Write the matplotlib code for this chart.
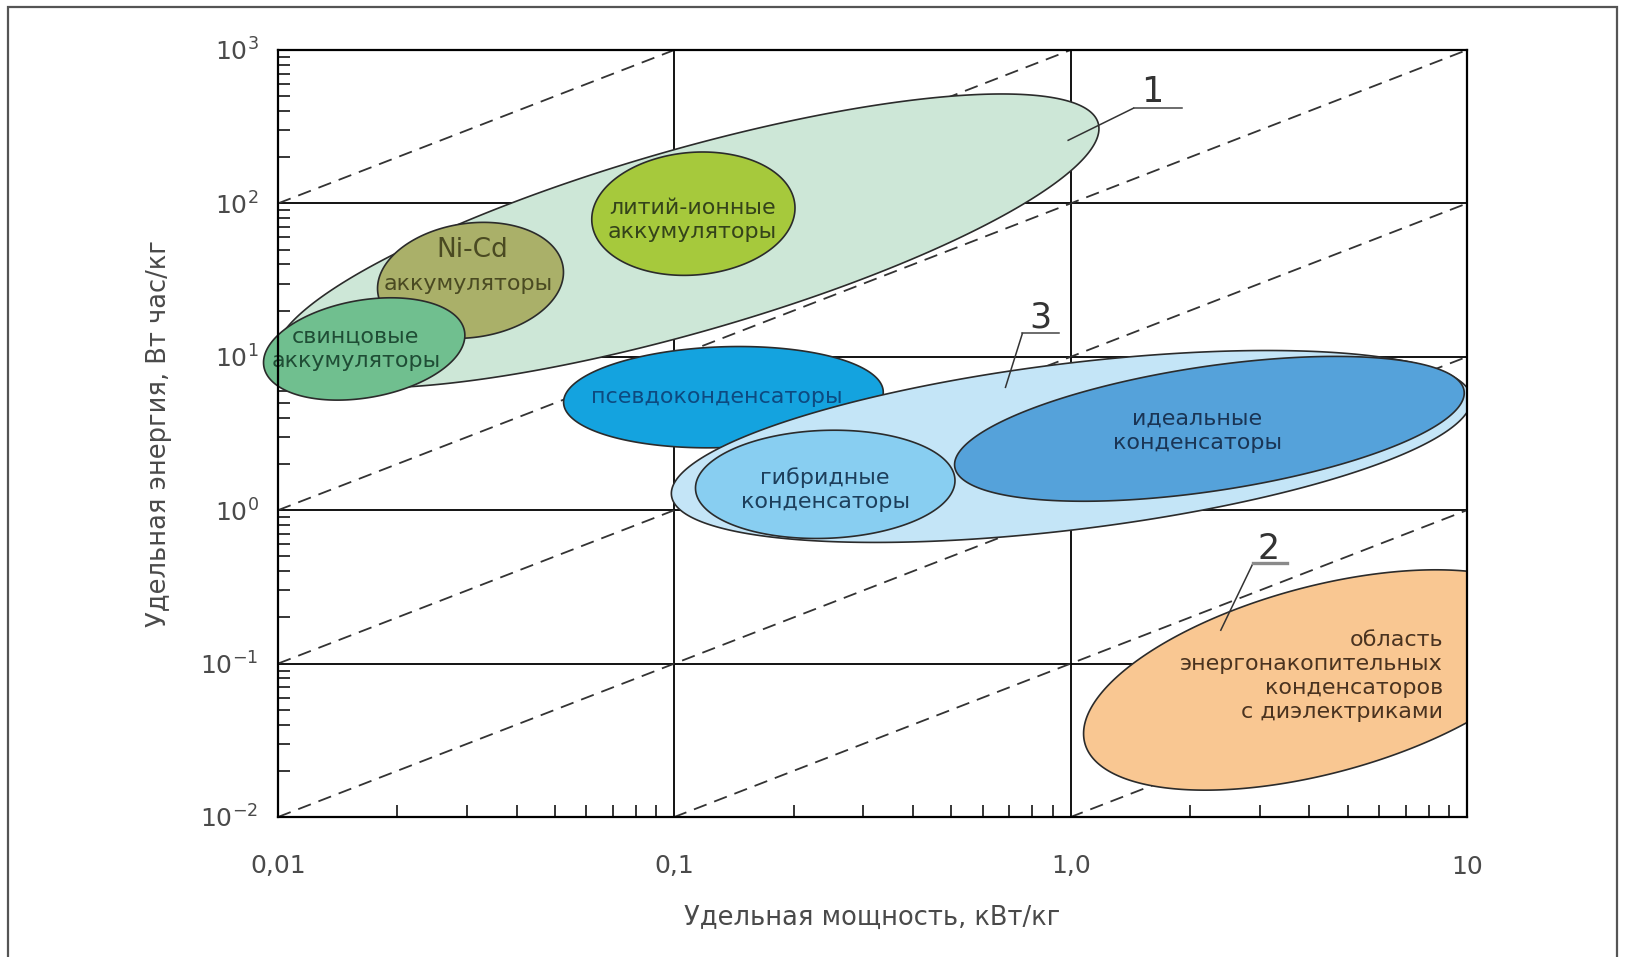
import numpy as np
import matplotlib
matplotlib.use("Agg")
import matplotlib.pyplot as plt
from matplotlib.patches import Rectangle
from matplotlib.ticker import FixedLocator, FixedFormatter, LogLocator, NullFormatter

# ---------------------------------------------------------------- data
# axes ticks
power_ticks = [0.01, 0.1, 1.0, 10.0]
power_labels = ["0,01", "0,1", "1,0", "10"]
energy_ticks = [1e-2, 1e-1, 1e0, 1e1, 1e2, 1e3]
energy_labels = ["$10^{-2}$", "$10^{-1}$", "$10^{0}$", "$10^{1}$", "$10^{2}$", "$10^{3}$"]

# lines of constant discharge time E = t * P (hours)
discharge_times_h = [1e4, 1e3, 1e2, 1e1, 1e0, 1e-1, 1e-2]

# regions of the Ragone diagram (drawn in this order)
region_names = ["1", "Ni-Cd", "свинцовые", "литий-ионные", "псевдо",
                "3", "гибридные", "идеальные", "2"]
region_power = [0.1077, 0.0306, 0.0165, 0.1117, 0.1330, 1.004, 0.2403, 2.239, 4.27]   # kW/kg
region_energy = [56.9, 31.5, 11.25, 85.7, 5.455, 2.603, 1.474, 3.392, 0.0782]        # Wh/kg
region_major = [1.079, 0.236, 0.257, 0.257, 0.4035, 1.0165, 0.3275, 0.6497, 0.6157]  # decades of power
region_minor = [0.2305, 0.144, 0.123, 0.1546, 0.1271, 0.2096, 0.1362, 0.1572, 0.2358]
region_tilt = [16, 8, 10, 5, 2, 7, 2, 8.5, 15]                                        # degrees
region_clipped = [False, False, False, False, False, True, True, True, True]

# texts written inside the regions: (text, power, energy, size, align)
region_texts = [
    ("Ni-Cd", 0.0309, 49.4, 19, "center"),
    ("аккумуляторы", 0.0302, 30.0, 16, "center"),
    ("свинцовые\nаккумуляторы", 0.01572, 11.25, 16, "center"),
    ("литий-ионные\nаккумуляторы", 0.1110, 77.7, 16, "center"),
    ("псевдоконденсаторы", 0.1283, 5.455, 16, "center"),
    ("гибридные\nконденсаторы", 0.2403, 1.36, 16, "center"),
    ("идеальные\nконденсаторы", 2.09, 3.29, 16, "center"),
    ("область\nэнергонакопительных\nконденсаторов\nс диэлектриками", 8.70, 0.0832, 16, "right"),
]

# numbered callouts: number, text position, leader polyline (power, energy)
callout_numbers = ["1", "3", "2"]
callout_text_pos = [(1.607, 459.0), (0.8375, 15.6), (3.158, 0.484)]
callout_leaders = [
    [(0.9856, 257.8), (1.4414, 417.9), (1.914, 417.9)],
    [(0.6847, 6.324), (0.7556, 14.22), (0.9335, 14.22)],
    [(2.392, 0.1651), (2.884, 0.4503), (3.52, 0.4503)],
]

# ---------------------------------------------------------------- style
fill_colors = ["#cde7d7", "#aab069", "#70bf8f", "#a6c93c", "#14a3df",
               "#c4e5f7", "#88cef1", "#55a2da", "#f9c792"]
text_colors = ["#4a4a22", "#4a4a22", "#1f4d35", "#34431a", "#0d4a80",
               "#1d3f5c", "#1a3555", "#4a3320"]
label_gray = "#4a4a4a"

plt.rcParams["font.family"] = ["DejaVu Sans"]
plt.rcParams["mathtext.fontset"] = "dejavusans"

W, H = 1627, 957
fig = plt.figure(figsize=(W / 100, H / 100), dpi=100)
ax_left, ax_right, ax_top, ax_bottom = 278, 1467, 50, 817
ax = fig.add_axes([ax_left / W, 1 - ax_bottom / H,
                   (ax_right - ax_left) / W, (ax_bottom - ax_top) / H])
ax.set_xscale("log")
ax.set_yscale("log")
ax.set_xlim(power_ticks[0], power_ticks[-1])
ax.set_ylim(energy_ticks[0], energy_ticks[-1])

# screen size of one energy decade relative to one power decade
n_px = np.log10(power_ticks[-1] / power_ticks[0])
n_py = np.log10(energy_ticks[-1] / energy_ticks[0])
decade_aspect = ((ax_bottom - ax_top) / n_py) / ((ax_right - ax_left) / n_px)

# grid and frame
ax.grid(which="major", color="black", linewidth=1.3, zorder=0)
ax.set_axisbelow(True)
for sp in ax.spines.values():
    sp.set_linewidth(1.6)
    sp.set_zorder(6)

ax.xaxis.set_major_locator(FixedLocator(power_ticks))
ax.xaxis.set_major_formatter(FixedFormatter(power_labels))
ax.yaxis.set_major_locator(FixedLocator(energy_ticks))
ax.yaxis.set_major_formatter(FixedFormatter(energy_labels))
ax.xaxis.set_minor_locator(LogLocator(base=10, subs=np.arange(2, 10)))
ax.yaxis.set_minor_locator(LogLocator(base=10, subs=np.arange(2, 10)))
ax.xaxis.set_minor_formatter(NullFormatter())
ax.yaxis.set_minor_formatter(NullFormatter())
ax.tick_params(which="major", length=0, labelsize=18, labelcolor=label_gray)
ax.tick_params(axis="x", which="major", pad=27)
ax.tick_params(axis="y", which="major", pad=14)
ax.tick_params(which="minor", direction="in", length=8.5, width=1.1, color="black",
               top=False, right=False)

# constant discharge-time lines
p_line = np.array([power_ticks[0], power_ticks[-1]])
for t in discharge_times_h:
    ax.plot(p_line, t * p_line, color="#333333", linewidth=1.3,
            dashes=(7.5, 4.5), zorder=1)


def ellipse_points(p0, e0, a, b, tilt_deg, n=400):
    """Closed ellipse in log-log space, sized in power decades, tilted as drawn."""
    t = np.linspace(0, 2 * np.pi, n)
    th = np.deg2rad(tilt_deg)
    du = a * np.cos(t) * np.cos(th) - b * np.sin(t) * np.sin(th)
    dv = a * np.cos(t) * np.sin(th) + b * np.sin(t) * np.cos(th)
    return 10 ** (np.log10(p0) + du), 10 ** (np.log10(e0) + dv / decade_aspect)


for i in range(len(region_names)):
    px, ey = ellipse_points(region_power[i], region_energy[i],
                            region_major[i], region_minor[i], region_tilt[i])
    ax.fill(px, ey, facecolor=fill_colors[i], edgecolor="#2b2b2b",
            linewidth=1.2, zorder=2 + i * 0.1, clip_on=region_clipped[i])

for (txt, p, e, size, align), col in zip(region_texts, text_colors):
    ax.text(p, e, txt, fontsize=size, color=col, ha=align, va="center",
            multialignment=align, linespacing=1.25, zorder=4)

# numbered callouts with leaders
for num, (tp, te), leader in zip(callout_numbers, callout_text_pos, callout_leaders):
    lp = [q[0] for q in leader]
    le = [q[1] for q in leader]
    ax.plot(lp[:2], le[:2], color="#333333", linewidth=1.1, zorder=5)
    ax.plot(lp[1:], le[1:], color="#8a8a8a" if num == "2" else "#444444",
            linewidth=2.4 if num == "2" else 1.1, zorder=5)
    ax.text(tp, te, num, fontsize=25, color="#333333", ha="center", va="baseline",
            zorder=5)

ax.set_xlabel("Удельная мощность, кВт/кг", fontsize=18.5, color=label_gray)
ax.set_ylabel("Удельная энергия, Вт час/кг", fontsize=18.5, color=label_gray)
ax.xaxis.set_label_coords(0.5, -(905 - ax_bottom) / (ax_bottom - ax_top))
ax.yaxis.set_label_coords(-(ax_left - 172) / (ax_right - ax_left), 0.5)

# outer frame of the figure
fig.add_artist(Rectangle((8 / W, -0.01), (1617 - 8) / W, 1 - 7 / H + 0.01,
                         transform=fig.transFigure, fill=False,
                         edgecolor="#555555", linewidth=1.6))

fig.savefig("out.png", dpi=100)
